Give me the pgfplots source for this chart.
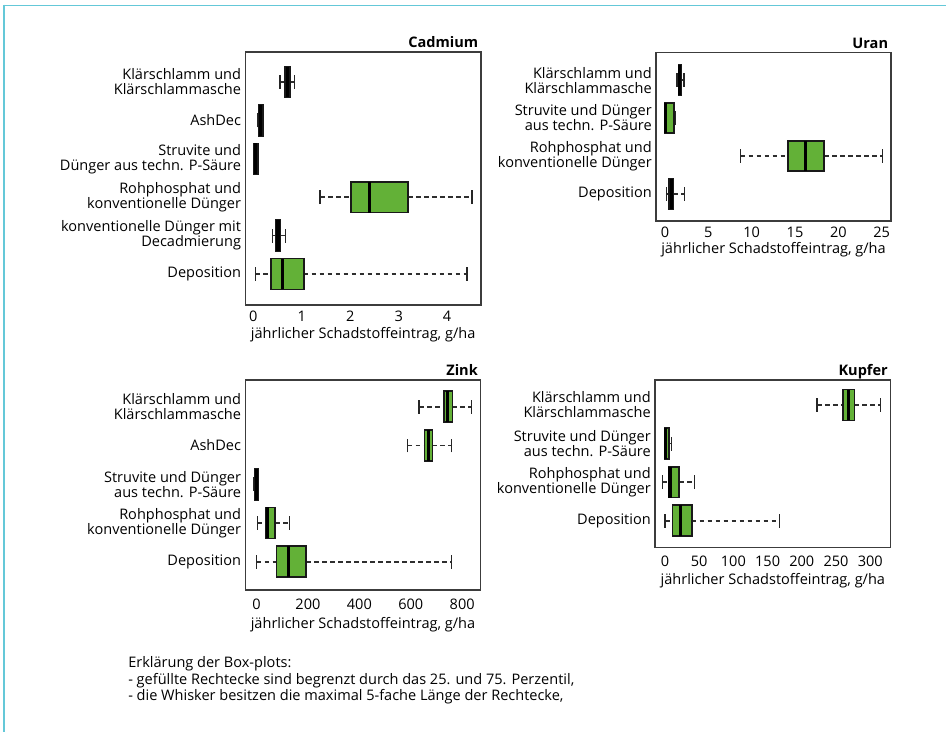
\documentclass[border=0pt]{standalone}
\usepackage{fontspec}
\setmainfont{Open Sans}
\usepackage{pgfplots}
\pgfplotsset{compat=1.18}
\usepgfplotslibrary{statistics}
\definecolor{boxgreen}{RGB}{99,177,55}
\definecolor{framecyan}{RGB}{100,200,216}
\definecolor{axisgray}{RGB}{60,60,60}
\newcommand{\lf}{\fontsize{10.9}{11.25}\selectfont}
\pgfplotsset{
  panel/.style={
    scale only axis,
    anchor=south west,
    axis line style={draw=axisgray, line width=1.1pt},
    tick style={draw=none},
    /pgf/number format/assume math mode=true,
    tick label style={font=\lf},
    xticklabel style={inner sep=0pt, yshift=-4.5pt},
    yticklabel style={align=right, inner sep=0pt, xshift=-3pt},
    xlabel={jährlicher Schadstoffeintrag, g/ha},
    label style={font=\lf},
    xlabel style={at={(axis description cs:0.5,0)}, anchor=center},
    title style={font=\lf\bfseries, at={(axis description cs:1,1)}, anchor=base east, inner sep=0pt, yshift=-2.5pt, xshift=-2pt},
    clip=false,
  },
  bx/.style={
    boxplot/draw direction=x,
    boxplot/box extend=0.8,
    boxplot/whisker extend=0.36,
    boxplot/every box/.style={draw=black!90, fill=boxgreen, line width=1.25pt},
    boxplot/every median/.style={draw=black, line width=2.3pt},
    boxplot/draw/lower whisker/.code={%
      \draw[draw=black!82, line width=1.2pt, dash pattern=on 3.6pt off 2.4pt]
        (boxplot whisker cs:\pgfplotsboxplotvalue{lower whisker},0.5) --
        (boxplot whisker cs:\pgfplotsboxplotvalue{lower quartile},0.5);
      \draw[draw=black!85, line width=1.1pt]
        (boxplot whisker cs:\pgfplotsboxplotvalue{lower whisker},0) --
        (boxplot whisker cs:\pgfplotsboxplotvalue{lower whisker},1);
    },
    boxplot/draw/upper whisker/.code={%
      \draw[draw=black!82, line width=1.2pt, dash pattern=on 3.6pt off 2.4pt]
        (boxplot whisker cs:\pgfplotsboxplotvalue{upper quartile},0.5) --
        (boxplot whisker cs:\pgfplotsboxplotvalue{upper whisker},0.5);
      \draw[draw=black!85, line width=1.1pt]
        (boxplot whisker cs:\pgfplotsboxplotvalue{upper whisker},0) --
        (boxplot whisker cs:\pgfplotsboxplotvalue{upper whisker},1);
    },
  },
}
\begin{document}
\begin{tikzpicture}
\path[use as bounding box] (0pt,0pt) rectangle (709.5pt,-549pt);
\draw[framecyan, line width=1.4pt] (2.25pt,-4.1pt) -- (709.5pt,-4.1pt);
\draw[framecyan, line width=1.4pt] (3.3pt,-3.4pt) -- (3.3pt,-549pt);

% ---------------- Cadmium
\begin{axis}[panel,
  at={(183.98pt,-228.75pt)}, width=176.8pt, height=189.75pt,
  xmin=-0.165, xmax=4.70, ymin=0.193, ymax=6.78,
  xtick={0,1,2,3,4},
  ytick={1,2,3,4,5,6},
  yticklabels={Deposition, {konventionelle Dünger mit\\Decadmierung}, {Rohphosphat und\\konventionelle Dünger}, {Struvite und\\Dünger aus techn. P-Säure}, AshDec, {Klärschlamm und\\Klärschlammasche}},
  title={Cadmium},
  xlabel style={yshift=-22.5pt},
]
\addplot[bx, boxplot prepared={draw position=6, lower whisker=0.55, lower quartile=0.66, median=0.71, upper quartile=0.76, upper whisker=0.85}] coordinates {};
\addplot[bx, boxplot prepared={draw position=5, lower whisker=0.10, lower quartile=0.11, median=0.15, upper quartile=0.20, upper whisker=0.21}] coordinates {};
\addplot[bx, boxplot prepared={draw position=4, lower whisker=0.0, lower quartile=0.01, median=0.05, upper quartile=0.10, upper whisker=0.10}] coordinates {};
\addplot[bx, boxplot prepared={draw position=3, lower whisker=1.38, lower quartile=2.02, median=2.40, upper quartile=3.19, upper whisker=4.51}] coordinates {};
\addplot[bx, boxplot prepared={draw position=2, lower whisker=0.40, lower quartile=0.47, median=0.51, upper quartile=0.56, upper whisker=0.66}] coordinates {};
\addplot[bx, boxplot prepared={draw position=1, lower whisker=0.04, lower quartile=0.36, median=0.61, upper quartile=1.04, upper whisker=4.41}] coordinates {};
\end{axis}

% ---------------- Uran
\begin{axis}[panel,
  at={(492pt,-165.75pt)}, width=176.25pt, height=126.2pt,
  xmin=-1.04, xmax=26.08, ymin=0.29, ymax=4.72,
  xtick={0,5,10,15,20,25},
  ytick={1,2,3,4},
  yticklabels={Deposition, {Rohphosphat und\\konventionelle Dünger}, {Struvite und Dünger\\aus techn. P-Säure}, {Klärschlamm und\\Klärschlammasche}},
  title={Uran},
  xlabel style={yshift=-21.75pt},
]
\addplot[bx, boxplot prepared={draw position=4, lower whisker=1.4, lower quartile=1.55, median=1.7, upper quartile=1.9, upper whisker=2.2}] coordinates {};
\addplot[bx, boxplot prepared={draw position=3, lower whisker=0.0, lower quartile=0.0, median=0.1, upper quartile=1.0, upper whisker=1.15}] coordinates {};
\addplot[bx, boxplot prepared={draw position=2, lower whisker=8.73, lower quartile=14.23, median=16.19, upper quartile=18.38, upper whisker=25.12}] coordinates {};
\addplot[bx, boxplot prepared={draw position=1, lower whisker=0.19, lower quartile=0.46, median=0.7, upper quartile=0.96, upper whisker=2.23}] coordinates {};
\end{axis}

% ---------------- Zink
\begin{axis}[panel,
  at={(183.98pt,-442.5pt)}, width=176.55pt, height=157.5pt,
  xmin=-43.6, xmax=872, ymin=0.27, ymax=5.69,
  xtick={0,200,400,600,800},
  ytick={1,2,3,4,5},
  yticklabels={Deposition, {Rohphosphat und\\konventionelle Dünger}, {Struvite und Dünger\\aus techn. P-Säure}, AshDec, {Klärschlamm und\\Klärschlammasche}},
  title={Zink},
  xticklabel style={yshift=-2pt},
  xlabel style={yshift=-26.25pt},
]
\addplot[bx, boxplot prepared={draw position=5, lower whisker=632, lower quartile=729, median=742, upper quartile=762, upper whisker=837}] coordinates {};
\addplot[bx, boxplot prepared={draw position=4, lower whisker=588, lower quartile=653, median=668, upper quartile=684, upper whisker=759}] coordinates {};
\addplot[bx, boxplot prepared={draw position=3, lower whisker=-10, lower quartile=-8, median=-1, upper quartile=7, upper whisker=8}] coordinates {};
\addplot[bx, boxplot prepared={draw position=2, lower whisker=4.5, lower quartile=37, median=42, upper quartile=72, upper whisker=128}] coordinates {};
\addplot[bx, boxplot prepared={draw position=1, lower whisker=0.6, lower quartile=78, median=126, upper quartile=193, upper whisker=759}] coordinates {};
\end{axis}

% ---------------- Kupfer
\begin{axis}[panel,
  at={(491.25pt,-410.78pt)}, width=176.8pt, height=125.8pt,
  xmin=-14.6, xmax=330, ymin=0.30, ymax=4.65,
  xtick={0,50,100,150,200,250,300},
  ytick={1,2,3,4},
  yticklabels={Deposition, {Rohphosphat und\\konventionelle Dünger}, {Struvite und Dünger\\aus techn. P-Säure}, {Klärschlamm und\\Klärschlammasche}},
  title={Kupfer},
  xticklabel style={yshift=-1.5pt},
  xlabel style={yshift=-24.75pt},
]
\addplot[bx, boxplot prepared={draw position=4, lower whisker=222, lower quartile=260, median=268, upper quartile=277, upper whisker=315}] coordinates {};
\addplot[bx, boxplot prepared={draw position=3, lower whisker=0, lower quartile=0, median=1, upper quartile=6.3, upper whisker=9.8}] coordinates {};
\addplot[bx, boxplot prepared={draw position=2, lower whisker=-3.4, lower quartile=4.9, median=7.3, upper quartile=20.5, upper whisker=43}] coordinates {};
\addplot[bx, boxplot prepared={draw position=1, lower whisker=0, lower quartile=11.2, median=22, upper quartile=39, upper whisker=167}] coordinates {};
\end{axis}

\node[anchor=base west, inner sep=0pt, font=\lf] at (96pt,-500.5pt) {Erklärung der Box-plots:};
\node[anchor=base west, inner sep=0pt, font=\lf] at (96pt,-513.25pt) {- gefüllte Rechtecke sind begrenzt durch das 25. und 75. Perzentil,};
\node[anchor=base west, inner sep=0pt, font=\lf] at (96pt,-525.25pt) {- die Whisker besitzen die maximal 5-fache Länge der Rechtecke,};
\end{tikzpicture}
\end{document}
